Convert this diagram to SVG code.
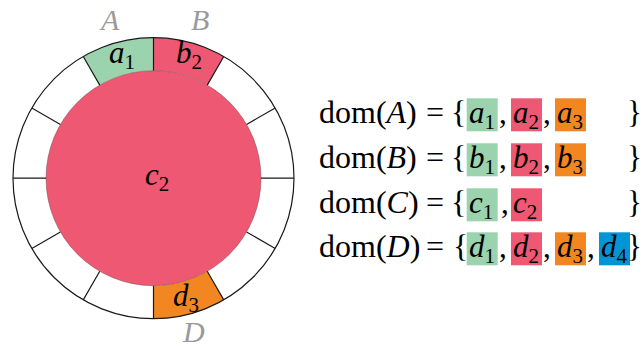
<svg xmlns="http://www.w3.org/2000/svg" width="642" height="349" viewBox="0 0 642 349">
<style>
text{font-family:"Liberation Serif","Times New Roman",serif;font-size:31px;fill:#000}
.m{font-size:32px}
.it{font-style:italic}
.sub{font-size:21px;font-style:normal}
.lab{font-style:italic;fill:#9a9a9a;font-size:30px}
.g{fill:#9AD3AE}.r{fill:#EE5873}.o{fill:#F28722}.b{fill:#0096D6}
.rad{stroke:#1a1a1a;stroke-width:1.2;fill:none}
</style>
<rect width="642" height="349" fill="#fff"/>
<g id="ring">
<circle cx="153.5" cy="178.2" r="140.5" fill="#fff"/>
<path id="seg-a1" class="g" d="M83.25 56.52 A140.5 140.5 0 0 1 153.5 37.7 L153.5 70.7 A107.5 107.5 0 0 0 99.75 85.1 Z"/>
<path id="seg-b2" class="r" d="M153.5 37.7 A140.5 140.5 0 0 1 223.75 56.52 L207.25 85.1 A107.5 107.5 0 0 0 153.5 70.7 Z"/>
<path id="seg-d3" class="o" d="M223.75 299.88 A140.5 140.5 0 0 1 153.5 318.7 L153.5 285.7 A107.5 107.5 0 0 0 207.25 271.3 Z"/>
<circle id="core" cx="153.5" cy="178.2" r="107.5" fill="#EE5873" stroke="#7a4a52" stroke-width="0.5"/>
<path class="rad" d="M261 178.2H294M246.6 231.95L275.18 248.45M207.25 271.3L223.75 299.88M153.5 285.7V318.7M99.75 271.3L83.25 299.88M60.4 231.95L31.82 248.45M46 178.2H13M60.4 124.45L31.82 107.95M99.75 85.1L83.25 56.52M153.5 70.7V37.7M207.25 85.1L223.75 56.52M246.6 124.45L275.18 107.95"/>
<circle class="rad" cx="153.5" cy="178.2" r="140.5"/>
</g>
<g id="ring-labels">
<text class="it" x="109" y="63">a<tspan class="sub" dy="6">1</tspan></text>
<text class="it" x="176" y="63">b<tspan class="sub" dy="6">2</tspan></text>
<text class="it" x="145" y="185">c<tspan class="sub" dy="6">2</tspan></text>
<text class="it" x="173" y="306">d<tspan class="sub" dy="6">3</tspan></text>
<text class="lab" x="101" y="30">A</text>
<text class="lab" x="191" y="30">B</text>
<text class="lab" x="183" y="342">D</text>
</g>
<g id="dom-A">
<text class="m" x="319" y="123">dom(<tspan class="it">A</tspan>)</text>
<text class="m" x="426" y="123">=</text>
<text class="m" x="451" y="123">{</text>
<rect class="g" x="466.7" y="98.3" width="31" height="33"/>
<rect class="r" x="511" y="98.3" width="31" height="33"/>
<rect class="o" x="555" y="98.3" width="31" height="33"/>
<text class="it" x="469" y="123">a<tspan class="sub" dy="6">1</tspan></text>
<text x="499" y="123">,</text>
<text class="it" x="513" y="123">a<tspan class="sub" dy="6">2</tspan></text>
<text x="543" y="123">,</text>
<text class="it" x="557" y="123">a<tspan class="sub" dy="6">3</tspan></text>
<text x="627" y="123">}</text>
</g>
<g id="dom-B">
<text class="m" x="319" y="168">dom(<tspan class="it">B</tspan>)</text>
<text class="m" x="426" y="168">=</text>
<text class="m" x="451" y="168">{</text>
<rect class="g" x="466.7" y="143.3" width="31" height="33"/>
<rect class="r" x="511" y="143.3" width="31" height="33"/>
<rect class="o" x="555" y="143.3" width="31" height="33"/>
<text class="it" x="469" y="168">b<tspan class="sub" dy="6">1</tspan></text>
<text x="499" y="168">,</text>
<text class="it" x="513" y="168">b<tspan class="sub" dy="6">2</tspan></text>
<text x="543" y="168">,</text>
<text class="it" x="557" y="168">b<tspan class="sub" dy="6">3</tspan></text>
<text x="627" y="168">}</text>
</g>
<g id="dom-C">
<text class="m" x="319" y="213">dom(<tspan class="it">C</tspan>)</text>
<text class="m" x="426" y="213">=</text>
<text class="m" x="451" y="213">{</text>
<rect class="g" x="466.7" y="188.3" width="31" height="33"/>
<rect class="r" x="511" y="188.3" width="31" height="33"/>
<text class="it" x="469" y="213">c<tspan class="sub" dy="6">1</tspan></text>
<text x="501" y="213">,</text>
<text class="it" x="513" y="213">c<tspan class="sub" dy="6">2</tspan></text>
<text x="627" y="213">}</text>
</g>
<g id="dom-D">
<text class="m" x="319" y="257">dom(<tspan class="it">D</tspan>)</text>
<text class="m" x="426" y="257">=</text>
<text class="m" x="453" y="257">{</text>
<rect class="g" x="466.7" y="232.3" width="31" height="33"/>
<rect class="r" x="511" y="232.3" width="31" height="33"/>
<rect class="o" x="555" y="232.3" width="31" height="33"/>
<rect class="b" x="599" y="232.3" width="31" height="33"/>
<text class="it" x="469" y="257">d<tspan class="sub" dy="6">1</tspan></text>
<text x="499" y="257">,</text>
<text class="it" x="513" y="257">d<tspan class="sub" dy="6">2</tspan></text>
<text x="543" y="257">,</text>
<text class="it" x="557" y="257">d<tspan class="sub" dy="6">3</tspan></text>
<text x="587" y="257">,</text>
<text class="it" x="601" y="257">d<tspan class="sub" dy="6">4</tspan></text>
<text x="627" y="257">}</text>
</g>
</svg>
